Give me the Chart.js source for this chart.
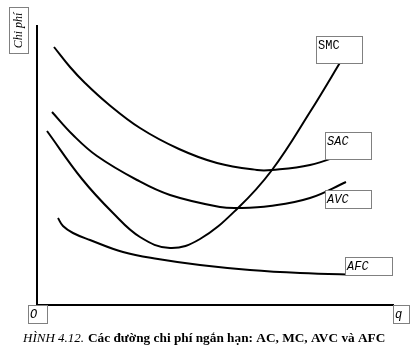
<!DOCTYPE html>
<html>
<head>
<meta charset="utf-8">
<script src="https://cdn.jsdelivr.net/npm/chart.js@4/dist/chart.umd.min.js"></script>
<style>
  body { margin: 0; background: #fff; }
  canvas { display: block; }
</style>
</head>
<body>
<canvas id="costChart" width="418" height="349"></canvas>
<script>
// output q on x, cost on y (diagram units)
const sacX = [17, 33, 48, 70, 103, 142, 180, 220, 235, 273, 307];
const sacY = [258, 238, 222, 202, 177, 156, 142, 135, 135, 140, 151];

const avcX = [15, 36, 60, 100, 133, 183, 203, 233, 273, 309];
const avcY = [193, 170, 149, 125, 110, 98, 97, 99, 107, 123];

const smcX = [10, 45, 76, 103, 133, 163, 201, 235, 273, 307];
const smcY = [174, 126, 92, 68, 57, 66, 97, 135, 193, 249];

const afcX = [21, 26, 36, 53, 86, 121, 163, 213, 263, 326];
const afcY = [87, 79, 72, 65, 53, 46, 40, 35, 32, 30];

const curveLabels = ["SMC", "SAC", "AVC", "AFC"];
const yTitle = "Chi phí";
const xTitle = "q";
const originLabel = "O";
const captionFig = "HÌNH 4.12.";
const captionText = "Các đường chi phí ngắn hạn: AC, MC, AVC và AFC";

const toPoints = (xs, ys) => xs.map((x, i) => ({ x: x, y: ys[i] }));

const curve = (label, xs, ys) => ({
  label: label,
  data: toPoints(xs, ys),
  borderColor: "#000",
  borderWidth: 2,
  pointRadius: 0,
  fill: false,
  tension: 0.4,
});

// dotted label boxes + caption
const boxes = [
  { text: curveLabels[0], x: 316, y: 36, w: 47, h: 28, italic: false },
  { text: curveLabels[1], x: 325, y: 132, w: 47, h: 28, italic: true },
  { text: curveLabels[2], x: 325, y: 190, w: 47, h: 19, italic: true },
  { text: curveLabels[3], x: 345, y: 257, w: 48, h: 19, italic: true },
  { text: originLabel, x: 28, y: 305, w: 20, h: 19, italic: true },
  { text: xTitle, x: 393, y: 305, w: 17, h: 19, italic: true },
];

const dottedBox = (ctx, x, y, w, h) => {
  ctx.fillStyle = "#fff";
  ctx.fillRect(x, y, w, h);
  ctx.strokeStyle = "#000";
  ctx.lineWidth = 1;
  ctx.setLineDash([1, 1]);
  ctx.strokeRect(x + 0.5, y + 0.5, w - 1, h - 1);
  ctx.setLineDash([]);
};

const annotations = {
  id: "annotations",
  afterDraw(chart) {
    const ctx = chart.ctx;
    ctx.save();

    boxes.forEach((b) => {
      dottedBox(ctx, b.x, b.y, b.w, b.h);
      ctx.fillStyle = "#000";
      ctx.font = (b.italic ? "italic " : "") + "12px 'Liberation Mono'";
      ctx.textBaseline = "top";
      ctx.textAlign = "left";
      ctx.fillText(b.text, b.x + 2, b.y + 4);
    });

    // y title, rotated
    dottedBox(ctx, 9, 7, 20, 47);
    ctx.save();
    ctx.translate(19, 30.5);
    ctx.rotate(-Math.PI / 2);
    ctx.font = "italic 12px 'Liberation Serif'";
    ctx.textAlign = "center";
    ctx.textBaseline = "middle";
    ctx.fillStyle = "#000";
    ctx.fillText(yTitle, 0, 0);
    ctx.restore();

    // caption
    ctx.textBaseline = "alphabetic";
    ctx.textAlign = "left";
    ctx.fillStyle = "#000";
    ctx.font = "italic 13px 'Liberation Serif'";
    ctx.fillText(captionFig, 23, 342);
    ctx.font = "bold 13.3px 'Liberation Serif'";
    ctx.fillText(captionText, 88, 342);

    ctx.restore();
  },
};

const canvas = document.getElementById("costChart");

new Chart(canvas, {
  type: "line",
  data: {
    datasets: [
      curve(curveLabels[0], smcX, smcY),
      curve(curveLabels[1], sacX, sacY),
      curve(curveLabels[2], avcX, avcY),
      curve(curveLabels[3], afcX, afcY),
    ],
  },
  options: {
    responsive: false,
    animation: false,
    layout: {
      padding: { left: 37, right: 25, top: 26, bottom: 44 },
    },
    plugins: {
      legend: false,
      tooltip: { enabled: false },
    },
    scales: {
      x: {
        type: "linear",
        min: 0,
        max: 356,
        grid: { display: false, drawTicks: false },
        ticks: { display: false },
        border: { display: true, color: "#000", width: 2 },
        afterFit: (s) => { s.height = 0; },
      },
      y: {
        type: "linear",
        min: 0,
        max: 279,
        grid: { display: false, drawTicks: false },
        ticks: { display: false },
        border: { display: true, color: "#000", width: 2 },
        afterFit: (s) => { s.width = 0; },
      },
    },
  },
  plugins: [annotations],
});
</script>
</body>
</html>
